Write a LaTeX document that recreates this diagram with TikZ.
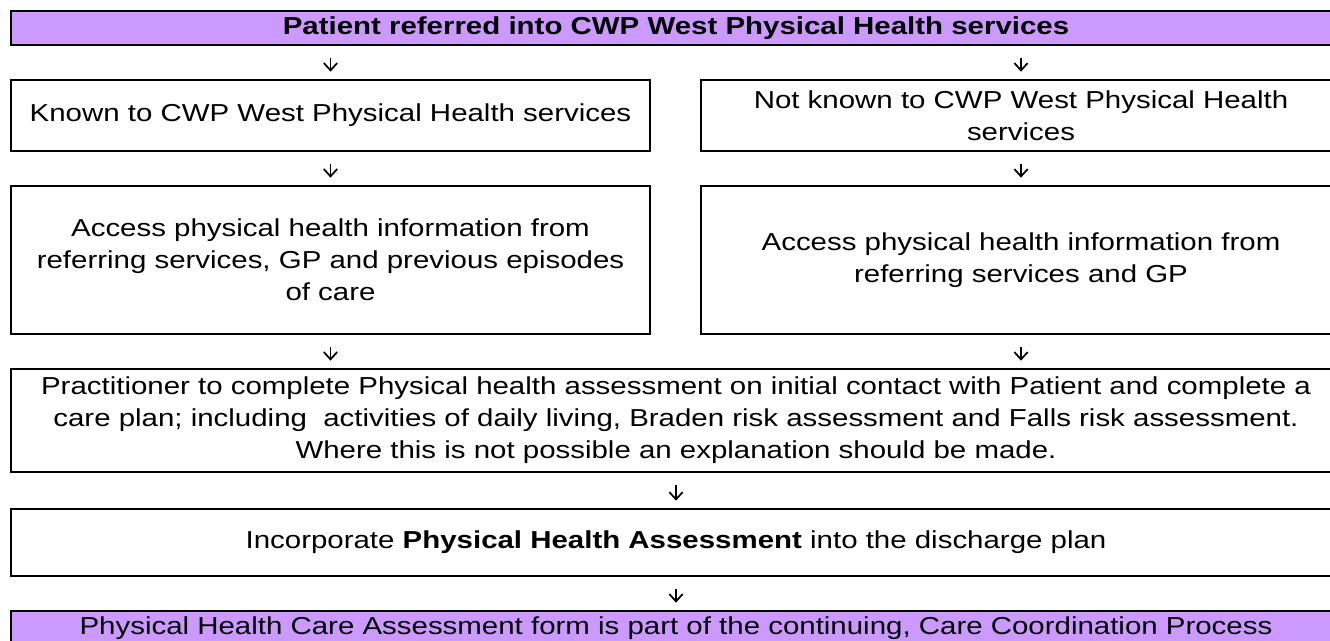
\documentclass[tikz,border=0pt]{standalone}
\usepackage{fontspec}
\setmainfont{Liberation Sans}[FakeStretch=1.2]
\usetikzlibrary{arrows.meta}
\definecolor{lav}{RGB}{204,153,255}
\begin{document}
\begin{tikzpicture}[x=0.75pt,y=-0.75pt,
  box/.style={draw=black,line width=1.5pt,rectangle,anchor=north west,inner sep=0pt,
    align=center,font=\fontsize{18.4pt}{24pt}\selectfont},
  headbox/.style={box,fill=lav},
  arr/.style={line width=1.3pt,-{Straight Barb[length=5.5pt,width=10pt,line width=1.3pt]},
    shorten <=9pt,shorten >=5.5pt}]
\useasboundingbox (0,0) rectangle (1330,641);
\clip (0,0) rectangle (1330,641);
% boxes
\node[headbox,minimum width=997.5pt,minimum height=25.5pt] (top) at (10,10)
  {\textbf{Patient referred into CWP West Physical Health services}};
\node[box,minimum width=479.25pt,minimum height=53.25pt] (known) at (10,79)
  {Known to CWP West Physical Health services};
\node[box,minimum width=480pt,minimum height=53.25pt] (notknown) at (700,79)
  {Not known to CWP West Physical Health\\services};
\node[box,minimum width=479.25pt,minimum height=111pt] (accessL) at (10,185)
  {Access physical health information from\\referring services, GP and previous episodes\\of care};
\node[box,minimum width=480pt,minimum height=111pt] (accessR) at (700,185)
  {Access physical health information from\\referring services and GP};
\node[box,minimum width=997.5pt,minimum height=77.25pt] (pract) at (10,368)
  {Practitioner to complete Physical health assessment on initial contact with Patient and complete a\\
   care plan; including\ \ activities of daily living, Braden risk assessment and Falls risk assessment.\\
   Where this is not possible an explanation should be made.};
\node[box,minimum width=997.5pt,minimum height=50.25pt] (incorp) at (10,508)
  {Incorporate \textbf{Physical Health Assessment} into the discharge plan};
\node[headbox,minimum width=997.5pt,minimum height=26pt] (final) at (10,610)
  {Physical Health Care Assessment form is part of the continuing, Care Coordination Process};
% connectors
\draw[arr] (known.north |- top.south) -- (known.north);
\draw[arr] (notknown.north |- top.south) -- (notknown.north);
\draw[arr] (known.south) -- (accessL.north);
\draw[arr] (notknown.south) -- (accessR.north);
\draw[arr] (accessL.south) -- (accessL.south |- pract.north);
\draw[arr] (accessR.south) -- (accessR.south |- pract.north);
\draw[arr] (pract.south) -- (incorp.north);
\draw[arr] (incorp.south) -- (final.north);
\end{tikzpicture}
\end{document}
